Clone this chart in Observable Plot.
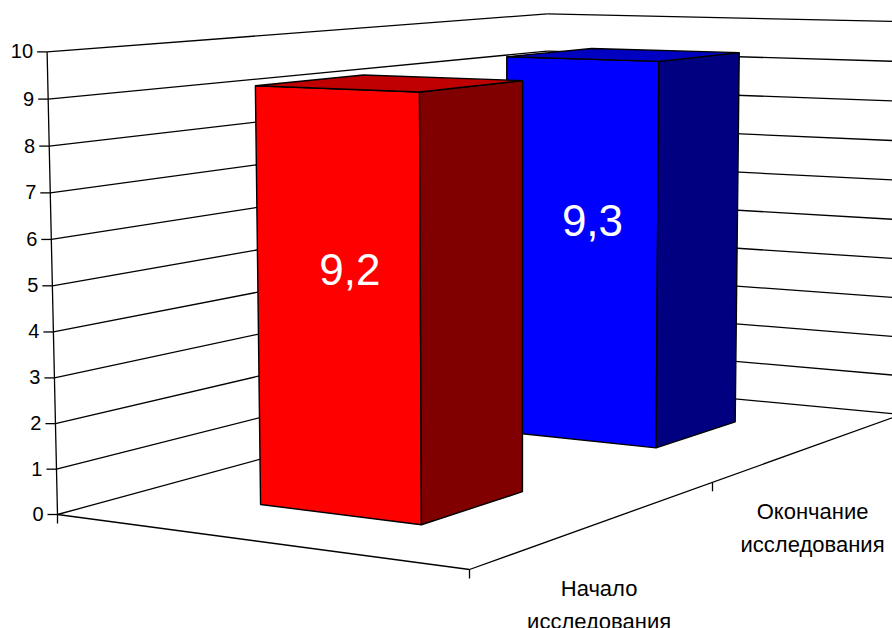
<!DOCTYPE html>
<html lang="ru">
<head>
<meta charset="utf-8">
<title>Начало и окончание исследования</title>
<script src="https://cdn.jsdelivr.net/npm/d3@7"></script>
<script src="https://cdn.jsdelivr.net/npm/@observablehq/plot@0.6"></script>
<style>
  html, body { margin: 0; padding: 0; background: #fff; overflow: hidden; }
  svg { display: block; }
</style>
</head>
<body>
<div id="chart"></div>
<script>
// Chart content
const categories = ["Начало\nисследования", "Окончание\nисследования"];
const values = [9.2, 9.3];
const valueLabels = ["9,2", "9,3"];
const axisTicks = [0, 1, 2, 3, 4, 5, 6, 7, 8, 9, 10];
const barColors = [
  {front: "#ff0000", side: "#800000", top: "#c00000"},
  {front: "#0000ff", side: "#000080", top: "#0000c0"}
];

// Box proportions: bars fill 40% of the slot along both floor directions
const barStart = 0.3;
const barEnd = 0.7;

// Perspective camera: depth runs 0..1 (front edge to wall), slot runs 0..2
// (one unit per category), value runs 0..10 up the walls.
const camera = {
  origin: [469, 569],
  depth: [-406.87, -8.74],
  slot: [344.7, -18.35],
  value: [-1.247, -50.55],
  w: [0.09, 0.14285, -0.002437]
};

function project(depth, slot, value) {
  const w = 1 + camera.w[0] * depth + camera.w[1] * slot + camera.w[2] * value;
  const at = (i) =>
    (camera.origin[i] + camera.depth[i] * depth + camera.slot[i] * slot + camera.value[i] * value) / w;
  return {x: at(0), y: at(1)};
}

// Straight segments of the frame, each from one model point to another
const segment = (a, b) => {
  const p = project(...a), q = project(...b);
  return {x1: p.x, y1: p.y, x2: q.x, y2: q.y};
};

const wallLines = axisTicks.flatMap((v) => [
  segment([1, 0, v], [1, 2, v]),
  segment([1, 2, v], [0, 2, v])
]);
const frameLines = [
  segment([1, 0, 0], [1, 0, 10]),
  segment([1, 0, 0], [0, 0, 0]),
  segment([0, 0, 0], [0, 2, 0])
];
const valueTicks = axisTicks.map((v) => ({...project(1, 0, v), v}));
const floorTicks = [[1, 0], [0, 0], [0, 1]].map(([d, s]) => project(d, s, 0));

// One closed outline per visible bar face
function barFaces(i) {
  const v = values[i], s0 = i + barStart, s1 = i + barEnd;
  const face = (corners, fill) => ({points: corners.map((c) => project(...c)), fill});
  return [
    face([[barStart, s0, 0], [barEnd, s0, 0], [barEnd, s0, v], [barStart, s0, v]], barColors[i].front),
    face([[barStart, s0, 0], [barStart, s1, 0], [barStart, s1, v], [barStart, s0, v]], barColors[i].side),
    face([[barStart, s0, v], [barStart, s1, v], [barEnd, s1, v], [barEnd, s0, v]], barColors[i].top)
  ];
}
const faces = [...barFaces(1), ...barFaces(0)];

const valueText = values.map((v, i) => ({...project(0.47, i + barStart, v * 0.58), label: valueLabels[i]}));
const categoryText = categories.map((label, i) => ({...project(0, i + 0.5, 0), label}));

const lineStyle = {stroke: "#000", strokeWidth: 1.3};

const chart = Plot.plot({
  width: 892,
  height: 628,
  margin: 0,
  x: {type: "identity"},
  y: {type: "identity"},
  style: {background: "#fff", fontFamily: "'Liberation Sans', Arial, sans-serif"},
  marks: [
    Plot.link(wallLines, {x1: "x1", y1: "y1", x2: "x2", y2: "y2", ...lineStyle}),
    Plot.link(frameLines, {x1: "x1", y1: "y1", x2: "x2", y2: "y2", ...lineStyle}),
    Plot.link(valueTicks, {x1: (d) => d.x - 10, x2: "x", y1: "y", y2: "y", ...lineStyle}),
    Plot.link(floorTicks, {x1: "x", x2: "x", y1: "y", y2: (d) => d.y + 9, ...lineStyle}),
    ...faces.map((f) =>
      Plot.line(f.points, {
        x: "x",
        y: "y",
        curve: "linear-closed",
        fill: f.fill,
        stroke: "#000",
        strokeWidth: 1.4,
        strokeLinejoin: "miter"
      })
    ),
    Plot.text(valueTicks, {
      x: "x",
      y: "y",
      text: (d) => String(d.v),
      textAnchor: "end",
      dx: -14,
      fontSize: 20,
      fill: "#000"
    }),
    Plot.text(valueText, {x: "x", y: "y", text: "label", fontSize: 44, fill: "#fff"}),
    Plot.text(categoryText, {
      x: "x",
      y: "y",
      text: "label",
      dy: 79,
      lineHeight: 1.5,
      fontSize: 22,
      fill: "#000"
    })
  ]
});

document.getElementById("chart").append(chart);
</script>
</body>
</html>
